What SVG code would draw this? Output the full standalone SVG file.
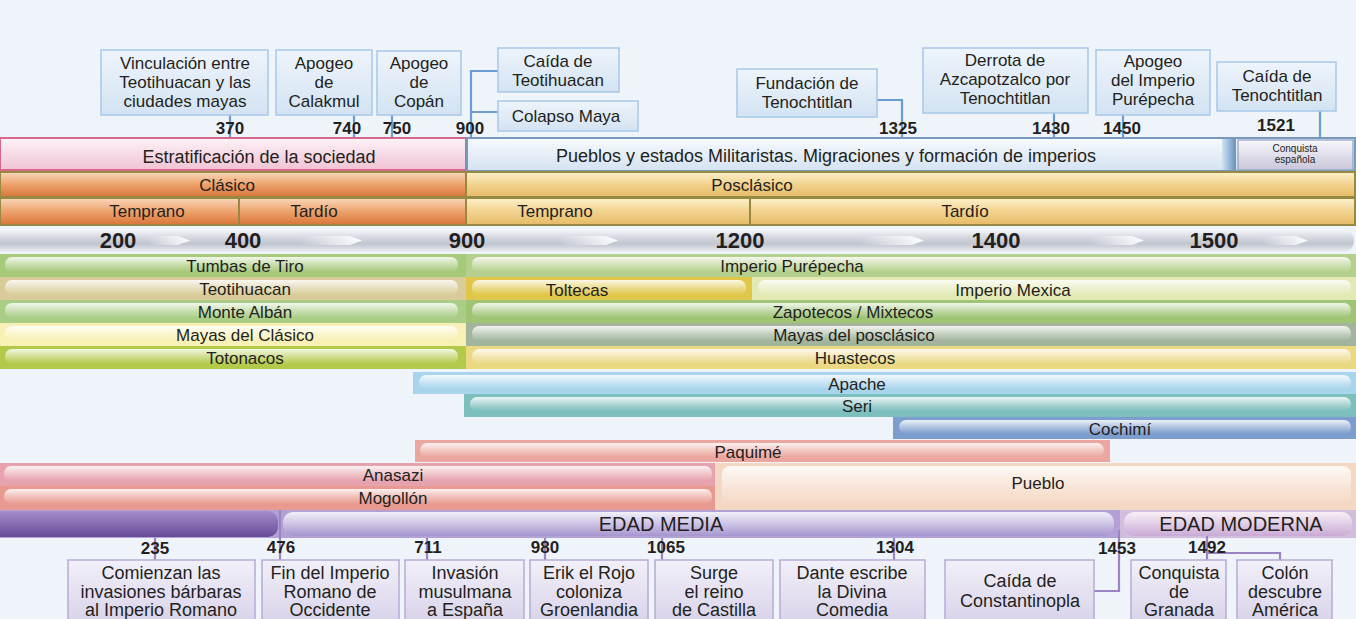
<svg xmlns="http://www.w3.org/2000/svg" width="1356" height="619" viewBox="0 0 1356 619">
<defs>
<linearGradient id="gTopBox" x1="0" y1="0" x2="0" y2="1"><stop offset="0" stop-color="#eef4fb"/><stop offset="1" stop-color="#d3e3f3"/></linearGradient>
<linearGradient id="gBotBox" x1="0" y1="0" x2="0" y2="1"><stop offset="0" stop-color="#f2f0f9"/><stop offset="1" stop-color="#d6cfe8"/></linearGradient>
<linearGradient id="gPink" x1="0" y1="0" x2="0" y2="1"><stop offset="0" stop-color="#fdf2f7"/><stop offset="1" stop-color="#f0c3d4"/></linearGradient>
<linearGradient id="gBlueBar" x1="0" y1="0" x2="0" y2="1"><stop offset="0" stop-color="#f7fafd"/><stop offset="1" stop-color="#d4e2f1"/></linearGradient>
<linearGradient id="gConq" x1="0" y1="0" x2="0" y2="1"><stop offset="0" stop-color="#f8f7fb"/><stop offset="1" stop-color="#c9c6da"/></linearGradient>
<linearGradient id="gDiv" x1="0" y1="0" x2="1" y2="0"><stop offset="0" stop-color="#d4e2f1"/><stop offset="0.6" stop-color="#8fb2d8"/><stop offset="1" stop-color="#6f8fb4"/></linearGradient>
<linearGradient id="gOrange" x1="0" y1="0" x2="0" y2="1"><stop offset="0" stop-color="#f9d8bc"/><stop offset="0.5" stop-color="#eda26c"/><stop offset="1" stop-color="#d87538"/></linearGradient>
<linearGradient id="gGold" x1="0" y1="0" x2="0" y2="1"><stop offset="0" stop-color="#fdf1cc"/><stop offset="0.5" stop-color="#f2d28e"/><stop offset="1" stop-color="#e5bb66"/></linearGradient>
<linearGradient id="gAxis" x1="0" y1="0" x2="0" y2="1"><stop offset="0" stop-color="#f9fafc"/><stop offset="0.35" stop-color="#d6d9e1"/><stop offset="0.65" stop-color="#c1c5cf"/><stop offset="1" stop-color="#eceef2"/></linearGradient>
<linearGradient id="gArrow" x1="0" y1="0" x2="1" y2="0"><stop offset="0" stop-color="#ffffff" stop-opacity="0"/><stop offset="1" stop-color="#ffffff" stop-opacity="0.95"/></linearGradient>
<linearGradient id="gShine" x1="0" y1="0" x2="0" y2="1"><stop offset="0" stop-color="#ffffff" stop-opacity="0.85"/><stop offset="0.55" stop-color="#ffffff" stop-opacity="0.35"/><stop offset="1" stop-color="#ffffff" stop-opacity="0"/></linearGradient>
<linearGradient id="gEdadDark" x1="0" y1="0" x2="0" y2="1"><stop offset="0" stop-color="#a58ecb"/><stop offset="1" stop-color="#68499a"/></linearGradient>
<linearGradient id="gEdadMed" x1="0" y1="0" x2="0" y2="1"><stop offset="0" stop-color="#f3f0fa"/><stop offset="1" stop-color="#a695cf"/></linearGradient>
<linearGradient id="gEdadMod" x1="0" y1="0" x2="0" y2="1"><stop offset="0" stop-color="#f8f0f7"/><stop offset="1" stop-color="#c9aad6"/></linearGradient>
<style>
.t{font-family:"Liberation Sans",Arial,sans-serif;fill:#231f20;text-anchor:middle}
.f17{font-size:17px}
.f18{font-size:18px}
.yr{font-size:17px;font-weight:bold}
.ax{font-size:22px;font-weight:bold}
.tb{fill:url(#gTopBox);stroke:#a9c7e7;stroke-width:1.5}
.bb{fill:url(#gBotBox);stroke:#b7aad3;stroke-width:1.5}
.ct{stroke:#6c9dd2;stroke-width:2.2;fill:none}
.cb{stroke:#9a84c4;stroke-width:2.2;fill:none}
.per{stroke:#978842;stroke-width:2}
.shine{fill:url(#gShine)}
.arr{fill:url(#gArrow)}
</style>
</defs>
<rect x="0" y="0" width="1356" height="619" fill="#eff4fa"/>

<!-- Top period bars -->
<g id="bar-estratificacion">
<rect x="0" y="138" width="466" height="32" fill="url(#gPink)" stroke="#d8668c" stroke-width="2"/>
<text class="t f18" x="259" y="163">Estratificación de la sociedad</text>
</g>
<g id="bar-pueblos">
<rect x="467" y="138" width="888" height="33" fill="url(#gBlueBar)" stroke="#7a98bc" stroke-width="2"/>
<rect x="1222" y="139" width="14" height="31" fill="url(#gDiv)"/>
<text class="t f18" x="826" y="162">Pueblos y estados Militaristas. Migraciones y formación de imperios</text>
</g>
<g id="bar-conquista">
<rect x="1238" y="140" width="115" height="30" fill="url(#gConq)" stroke="#8aa0bf" stroke-width="1.2"/>
<text class="t" style="font-size:10px" x="1295" y="152">Conquista</text>
<text class="t" style="font-size:10px" x="1295" y="163">española</text>
</g>
<g id="bar-clasico">
<rect class="per" x="0" y="172" width="466" height="25" fill="url(#gOrange)"/>
<text class="t f17" x="227" y="191">Clásico</text>
</g>
<g id="bar-posclasico">
<rect class="per" x="466" y="172" width="889" height="25" fill="url(#gGold)"/>
<text class="t f17" x="752" y="191">Posclásico</text>
</g>
<g id="bar-clasico-temprano">
<rect class="per" x="0" y="198" width="239" height="27" fill="url(#gOrange)"/>
<text class="t f17" x="147" y="217">Temprano</text>
</g>
<g id="bar-clasico-tardio">
<rect class="per" x="239" y="198" width="227" height="27" fill="url(#gOrange)"/>
<text class="t f17" x="314" y="217">Tardío</text>
</g>
<g id="bar-posclasico-temprano">
<rect class="per" x="466" y="198" width="284" height="27" fill="url(#gGold)"/>
<text class="t f17" x="555" y="217">Temprano</text>
</g>
<g id="bar-posclasico-tardio">
<rect class="per" x="750" y="198" width="605" height="27" fill="url(#gGold)"/>
<text class="t f17" x="965" y="217">Tardío</text>
</g>

<!-- Axis -->
<g id="axis">
<rect x="-12" y="229" width="1366" height="23" rx="11" fill="url(#gAxis)"/>
<polygon class="arr" points="148,236 178,236 190,240.5 178,245 148,245"/>
<polygon class="arr" points="300,236 350,236 362,240.5 350,245 300,245"/>
<polygon class="arr" points="560,236 606,236 618,240.5 606,245 560,245"/>
<polygon class="arr" points="860,236 912,236 924,240.5 912,245 860,245"/>
<polygon class="arr" points="1090,236 1132,236 1144,240.5 1132,245 1090,245"/>
<polygon class="arr" points="1262,236 1296,236 1308,240.5 1296,245 1262,245"/>
<text class="t ax" x="118" y="248">200</text>
<text class="t ax" x="243" y="248">400</text>
<text class="t ax" x="467" y="248">900</text>
<text class="t ax" x="740" y="248">1200</text>
<text class="t ax" x="996" y="248">1400</text>
<text class="t ax" x="1214" y="248">1500</text>
</g>

<!-- Mesoamerican cultures -->
<g id="tumbas-de-tiro"><rect x="0" y="254" width="466" height="23" fill="#a6c97a"/><rect class="shine" x="5" y="257" width="453" height="15" rx="7"/><text class="t f17" x="245" y="272">Tumbas de Tiro</text></g>
<g id="teotihuacan"><rect x="0" y="277" width="466" height="23" fill="#d9cc9a"/><rect class="shine" x="5" y="280" width="453" height="15" rx="7"/><text class="t f17" x="245" y="295">Teotihuacan</text></g>
<g id="monte-alban"><rect x="0" y="300" width="466" height="23" fill="#a9cd84"/><rect class="shine" x="5" y="303" width="453" height="15" rx="7"/><text class="t f17" x="245" y="318">Monte Albán</text></g>
<g id="mayas-clasico"><rect x="0" y="323" width="466" height="23" fill="#f8f0b4"/><rect class="shine" x="5" y="326" width="453" height="15" rx="7"/><text class="t f17" x="245" y="341">Mayas del Clásico</text></g>
<g id="totonacos"><rect x="0" y="346" width="466" height="23" fill="#b3c94a"/><rect class="shine" x="5" y="349" width="453" height="15" rx="7"/><text class="t f17" x="245" y="364">Totonacos</text></g>

<g id="imperio-purepecha"><rect x="466" y="254" width="890" height="23" fill="#b5d08c"/><rect class="shine" x="472" y="257" width="879" height="15" rx="7"/><text class="t f17" x="792" y="272">Imperio Purépecha</text></g>
<g id="toltecas"><rect x="466" y="277" width="286" height="23" fill="#e0c74a"/><rect class="shine" x="472" y="280" width="274" height="15" rx="7"/><text class="t f17" x="577" y="296">Toltecas</text></g>
<g id="imperio-mexica"><rect x="752" y="277" width="604" height="23" fill="#e3e9b5"/><rect class="shine" x="758" y="280" width="593" height="15" rx="7"/><text class="t f17" x="1013" y="296">Imperio Mexica</text></g>
<g id="zapotecos-mixtecos"><rect x="466" y="300" width="890" height="23" fill="#9ec474"/><rect class="shine" x="472" y="303" width="879" height="15" rx="7"/><text class="t f17" x="853" y="318">Zapotecos / Mixtecos</text></g>
<g id="mayas-posclasico"><rect x="466" y="323" width="890" height="23" fill="#a2b49c"/><rect class="shine" x="472" y="326" width="879" height="15" rx="7"/><text class="t f17" x="854" y="341">Mayas del posclásico</text></g>
<g id="huastecos"><rect x="466" y="346" width="890" height="23" fill="#ead882"/><rect class="shine" x="472" y="349" width="879" height="15" rx="7"/><text class="t f17" x="855" y="364">Huastecos</text></g>

<!-- Northern cultures -->
<g id="apache"><rect x="413" y="372" width="943" height="22" fill="#a9d5ec"/><rect class="shine" x="419" y="375" width="932" height="14" rx="7"/><text class="t f17" x="857" y="390">Apache</text></g>
<g id="seri"><rect x="464" y="394" width="892" height="23" fill="#7dbfbd"/><rect class="shine" x="470" y="397" width="881" height="14" rx="7"/><text class="t f17" x="857" y="412">Seri</text></g>
<g id="cochimi"><rect x="893" y="417" width="463" height="22" fill="#7d9dce"/><rect class="shine" x="899" y="420" width="452" height="14" rx="7"/><text class="t f17" x="1120" y="435">Cochimí</text></g>
<g id="paquime"><rect x="415" y="440" width="695" height="22" fill="#eba79f"/><rect class="shine" x="420" y="443" width="684" height="14" rx="7"/><text class="t f17" x="748" y="458">Paquimé</text></g>
<g id="anasazi"><rect x="0" y="463" width="715" height="23" fill="#e7a3ad"/><rect class="shine" x="4" y="466" width="708" height="15" rx="7"/><text class="t f17" x="393" y="481">Anasazi</text></g>
<g id="mogollon"><rect x="0" y="486" width="715" height="24" fill="#e99a90"/><rect class="shine" x="4" y="489" width="708" height="15" rx="7"/><text class="t f17" x="393" y="504">Mogollón</text></g>
<g id="pueblo"><rect x="715" y="463" width="641" height="47" fill="#f5d8c4"/><rect class="shine" x="722" y="466" width="629" height="38" rx="8"/><text class="t f17" x="1038" y="489">Pueblo</text></g>

<!-- Ages -->
<g id="edad-antigua"><rect x="0" y="510" width="1356" height="28" fill="#b1a1d5"/><rect x="-12" y="511" width="290" height="26" rx="10" fill="url(#gEdadDark)"/></g>
<g id="edad-media"><rect x="283" y="512" width="831" height="24" rx="10" fill="url(#gEdadMed)"/><text class="t" style="font-size:20px" x="661" y="531">EDAD MEDIA</text></g>
<g id="edad-moderna"><rect x="1120" y="510" width="236" height="28" fill="#d2bedc"/><rect x="1124" y="512" width="228" height="24" rx="10" fill="url(#gEdadMod)"/><text class="t" style="font-size:20px" x="1241" y="531">EDAD MODERNA</text></g>

<!-- Connectors -->
<g id="connectors">
<path class="ct" d="M230 115V137"/>
<path class="ct" d="M354 115V137"/>
<path class="ct" d="M392 115V137"/>
<path class="ct" d="M498 71H471V137M471 112H498"/>
<path class="ct" d="M877 100H902V137"/>
<path class="ct" d="M1054 113V137"/>
<path class="ct" d="M1123 115V137"/>
<path class="ct" d="M1320 111V139"/>
<path class="cb" d="M155 538V560"/>
<path class="cb" d="M280 510V560"/>
<path class="cb" d="M427 538V560"/>
<path class="cb" d="M545 538V560"/>
<path class="cb" d="M662 538V560"/>
<path class="cb" d="M894 538V560"/>
<path class="cb" d="M1119 530V591H1094"/>
<path class="cb" d="M1207 536V560M1207 553H1280V560"/>
</g>

<!-- Top events -->
<g id="ev-370"><rect class="tb" x="101" y="50" width="167" height="65"/>
<text class="t f17" x="185" y="69">Vinculación entre</text><text class="t f17" x="185" y="88">Teotihuacan y las</text><text class="t f17" x="185" y="107">ciudades mayas</text>
<text class="t yr" x="230" y="134">370</text></g>
<g id="ev-740"><rect class="tb" x="276" y="50" width="96" height="65"/>
<text class="t f17" x="324" y="69">Apogeo</text><text class="t f17" x="324" y="88">de</text><text class="t f17" x="324" y="107">Calakmul</text>
<text class="t yr" x="347" y="134">740</text></g>
<g id="ev-750"><rect class="tb" x="377" y="51" width="84" height="64"/>
<text class="t f17" x="419" y="69">Apogeo</text><text class="t f17" x="419" y="88">de</text><text class="t f17" x="419" y="107">Copán</text>
<text class="t yr" x="397" y="134">750</text></g>
<g id="ev-900a"><rect class="tb" x="498" y="48" width="121" height="44"/>
<text class="t f17" x="558" y="67">Caída de</text><text class="t f17" x="558" y="86">Teotihuacan</text></g>
<g id="ev-900b"><rect class="tb" x="498" y="101" width="140" height="30"/>
<text class="t f17" x="566" y="122">Colapso Maya</text>
<text class="t yr" x="470" y="134">900</text></g>
<g id="ev-1325"><rect class="tb" x="737" y="69" width="140" height="48"/>
<text class="t f17" x="807" y="89">Fundación de</text><text class="t f17" x="807" y="108">Tenochtitlan</text>
<text class="t yr" x="898" y="134">1325</text></g>
<g id="ev-1430"><rect class="tb" x="923" y="48" width="165" height="65"/>
<text class="t f17" x="1005" y="66">Derrota de</text><text class="t f17" x="1005" y="85">Azcapotzalco por</text><text class="t f17" x="1005" y="104">Tenochtitlan</text>
<text class="t yr" x="1051" y="134">1430</text></g>
<g id="ev-1450"><rect class="tb" x="1096" y="50" width="114" height="65"/>
<text class="t f17" x="1153" y="67">Apogeo</text><text class="t f17" x="1153" y="86">del Imperio</text><text class="t f17" x="1153" y="105">Purépecha</text>
<text class="t yr" x="1122" y="134">1450</text></g>
<g id="ev-1521"><rect class="tb" x="1217" y="62" width="119" height="49"/>
<text class="t f17" x="1277" y="82">Caída de</text><text class="t f17" x="1277" y="101">Tenochtitlan</text>
<text class="t yr" x="1276" y="131">1521</text></g>

<!-- Bottom events -->
<g id="ev-235"><rect class="bb" x="68" y="560" width="187" height="70"/>
<text class="t yr" x="155" y="554">235</text>
<text class="t f18" x="161" y="579">Comienzan las</text><text class="t f18" x="161" y="598">invasiones bárbaras</text><text class="t f18" x="161" y="616">al Imperio Romano</text></g>
<g id="ev-476"><rect class="bb" x="262" y="560" width="137" height="70"/>
<text class="t yr" x="281" y="553">476</text>
<text class="t f18" x="330" y="579">Fin del Imperio</text><text class="t f18" x="330" y="598">Romano de</text><text class="t f18" x="330" y="616">Occidente</text></g>
<g id="ev-711"><rect class="bb" x="405" y="560" width="119" height="70"/>
<text class="t yr" x="428" y="553">711</text>
<text class="t f18" x="465" y="579">Invasión</text><text class="t f18" x="465" y="598">musulmana</text><text class="t f18" x="465" y="616">a España</text></g>
<g id="ev-980"><rect class="bb" x="530" y="560" width="118" height="70"/>
<text class="t yr" x="545" y="553">980</text>
<text class="t f18" x="589" y="579">Erik el Rojo</text><text class="t f18" x="589" y="598">coloniza</text><text class="t f18" x="589" y="616">Groenlandia</text></g>
<g id="ev-1065"><rect class="bb" x="655" y="560" width="118" height="70"/>
<text class="t yr" x="666" y="553">1065</text>
<text class="t f18" x="714" y="579">Surge</text><text class="t f18" x="714" y="598">el reino</text><text class="t f18" x="714" y="616">de Castilla</text></g>
<g id="ev-1304"><rect class="bb" x="780" y="560" width="145" height="70"/>
<text class="t yr" x="895" y="553">1304</text>
<text class="t f18" x="852" y="579">Dante escribe</text><text class="t f18" x="852" y="598">la Divina</text><text class="t f18" x="852" y="616">Comedia</text></g>
<g id="ev-1453"><rect class="bb" x="945" y="560" width="149" height="70"/>
<text class="t yr" x="1117" y="554">1453</text>
<text class="t f18" x="1020" y="587">Caída de</text><text class="t f18" x="1020" y="607">Constantinopla</text></g>
<g id="ev-1492a"><rect class="bb" x="1131" y="560" width="95" height="70"/>
<text class="t yr" x="1207" y="553">1492</text>
<text class="t f18" x="1179" y="579">Conquista</text><text class="t f18" x="1179" y="598">de</text><text class="t f18" x="1179" y="616">Granada</text></g>
<g id="ev-1492b"><rect class="bb" x="1237" y="560" width="95" height="70"/>
<text class="t f18" x="1285" y="579">Colón</text><text class="t f18" x="1285" y="598">descubre</text><text class="t f18" x="1285" y="616">América</text></g>
</svg>
